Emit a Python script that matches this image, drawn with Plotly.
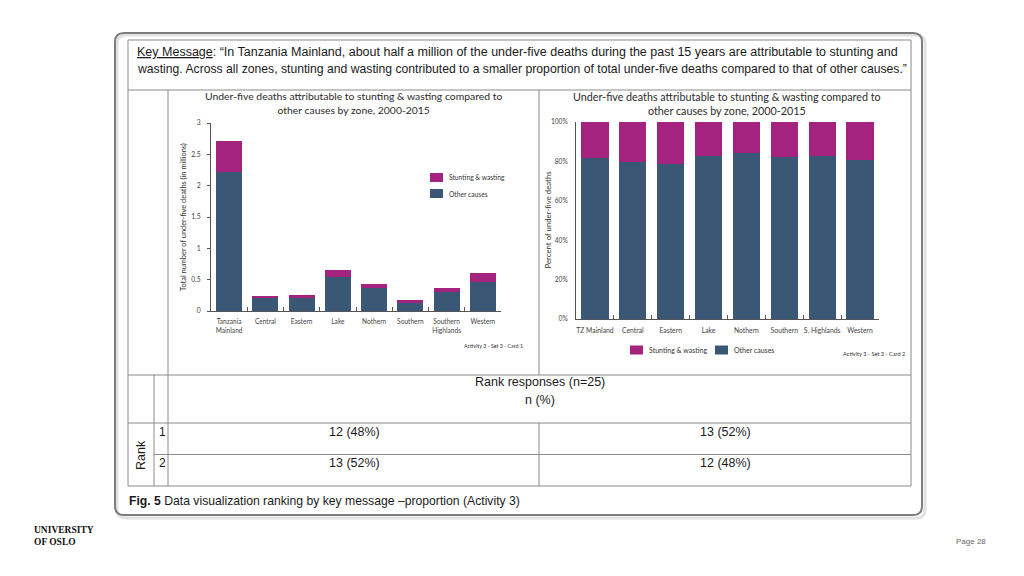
import plotly.graph_objects as go

# ---------------- data ----------------
zones_left = ["Tanzania<br>Mainland", "Central", "Eastern", "Lake", "Nothern", "Southern",
              "Southern<br>Highlands", "Western"]
left_other = [2.22, 0.20, 0.21, 0.54, 0.36, 0.14, 0.30, 0.47]      # millions
left_stunting = [0.50, 0.04, 0.04, 0.12, 0.07, 0.03, 0.07, 0.13]   # millions

zones_right = ["TZ Mainland", "Central", "Eastern", "Lake", "Nothern", "Southern",
               "S. Highlands", "Western"]
right_other = [81.7, 79.5, 78.8, 82.6, 84.1, 82.1, 82.9, 80.9]      # percent
right_stunting = [18.3, 20.5, 21.2, 17.4, 15.9, 17.9, 17.1, 19.1]   # percent

left_yticks = [0, 0.5, 1, 1.5, 2, 2.5, 3]
left_yticktext = ["0", "0.5", "1", "1.5", "2", "2.5", "3"]
right_yticks = [0, 20, 40, 60, 80, 100]
right_yticktext = ["0%", "20%", "40%", "60%", "80%", "100%"]

rank_rows = ["1", "2"]
rank_left = ["12 (48%)", "13 (52%)"]
rank_right = ["13 (52%)", "12 (48%)"]

# ---------------- style ----------------
W, H = 1024, 576
OFF = 8  # the page body adds an 8px margin around the figure
MAGENTA = "#A3237F"
BLUE = "#3A5875"
CHART_FONT = "Lato, 'Open Sans', sans-serif"
SANS = "'Liberation Sans', Arial, sans-serif"
GRID = "#8a8a8a"


def px(x):
    return (x - OFF) / W


def py(y):
    return 1 - (y - OFF) / H


fig = go.Figure()

fig.add_trace(go.Bar(x=zones_left, y=left_other, marker=dict(color=BLUE, line=dict(width=0)),
                     name="Other causes", xaxis="x", yaxis="y", showlegend=False))
fig.add_trace(go.Bar(x=zones_left, y=left_stunting, marker=dict(color=MAGENTA, line=dict(width=0)),
                     name="Stunting & wasting", xaxis="x", yaxis="y", showlegend=False))
fig.add_trace(go.Bar(x=zones_right, y=right_other, marker=dict(color=BLUE, line=dict(width=0)),
                     name="Other causes", xaxis="x2", yaxis="y2", showlegend=False))
fig.add_trace(go.Bar(x=zones_right, y=right_stunting, marker=dict(color=MAGENTA, line=dict(width=0)),
                     name="Stunting & wasting", xaxis="x2", yaxis="y2", showlegend=False))

axis_common = dict(showgrid=False, zeroline=False, showline=True, linecolor="#555", linewidth=1,
                   automargin=False)

shapes = []
annotations = []


def ann(text, x, y, size, family=SANS, color="#1a1a1a", xanchor="center", yanchor="middle",
        angle=0, align="center"):
    annotations.append(dict(text=text, x=px(x), y=py(y), xref="paper", yref="paper",
                            showarrow=False, xanchor=xanchor, yanchor=yanchor, textangle=angle,
                            align=align, font=dict(family=family, size=size, color=color)))


def line(x0, y0, x1, y1, color=GRID, width=1):
    shapes.append(dict(type="line", xref="paper", yref="paper", x0=px(x0), y0=py(y0),
                       x1=px(x1), y1=py(y1), line=dict(color=color, width=width)))


def rrect(x0, y0, x1, y1, r, color, width):
    rx, ry = r / W, r / H
    X0, X1, Y0, Y1 = px(x0), px(x1), py(y1), py(y0)
    path = (f"M{X0+rx},{Y1} L{X1-rx},{Y1} Q{X1},{Y1} {X1},{Y1-ry} "
            f"L{X1},{Y0+ry} Q{X1},{Y0} {X1-rx},{Y0} L{X0+rx},{Y0} Q{X0},{Y0} {X0},{Y0+ry} "
            f"L{X0},{Y1-ry} Q{X0},{Y1} {X0+rx},{Y1} Z")
    shapes.append(dict(type="path", xref="paper", yref="paper", path=path,
                       line=dict(color=color, width=width)))


def swatch(x0, y0, x1, y1, color):
    shapes.append(dict(type="rect", xref="paper", yref="paper", x0=px(x0), y0=py(y1),
                       x1=px(x1), y1=py(y0), fillcolor=color, line=dict(width=0)))


# outer box with soft shadow
rrect(117, 35, 925, 518, 9, "#e2e2e2", 3)
rrect(115, 33, 922, 515, 9, "#7d7d7d", 2)

# table frame
T_L, T_R, T_T, T_B = 128, 911, 40, 486
line(T_L, T_T, T_R, T_T)
line(T_L, T_B, T_R, T_B)
line(T_L, T_T, T_L, T_B)
line(T_R, T_T, T_R, T_B)
line(T_L, 90, T_R, 90)
line(T_L, 375, T_R, 375)
line(T_L, 423, T_R, 423)
line(154, 454.5, T_R, 454.5)
line(168, 90, 168, T_B)
line(154, 375, 154, T_B)
line(539, 90, 539, 375)
line(539, 423, 539, T_B)

# key message
ann("<u>Key Message</u>: “In Tanzania Mainland, about half a million of the under-five deaths during the past 15 years are attributable to stunting and",
    135, 52, 12.5, xanchor="left")
ann("wasting. Across all zones, stunting and wasting contributed to a smaller proportion of total under-five deaths compared to that of other causes.”",
    135, 69, 12.2, xanchor="left")

# chart titles
title = "Under-five deaths attributable to stunting &amp; wasting compared to<br>other causes by zone, 2000-2015"
ann(title, 353, 103, 10.4, family=CHART_FONT, color="#2b2b2b")
ann(title, 727, 103, 10.75, family=CHART_FONT, color="#2b2b2b")

# axis titles
ann("Total number of under-five deaths (in millions)", 183, 217, 7.4, family=CHART_FONT,
    color="#333", angle=-90)
ann("Percent of under-five deaths", 547.5, 220, 7.8, family=CHART_FONT, color="#333", angle=-90)

# legends
swatch(430, 173, 443, 182, MAGENTA)
ann("Stunting &amp; wasting", 447, 177.5, 6.7, family=CHART_FONT, color="#333", xanchor="left")
swatch(430, 189, 443, 198, BLUE)
ann("Other causes", 447, 193.5, 6.7, family=CHART_FONT, color="#333", xanchor="left")

swatch(630, 345.5, 643, 354.5, MAGENTA)
ann("Stunting &amp; wasting", 647, 350, 7, family=CHART_FONT, color="#333", xanchor="left")
swatch(715, 345.5, 728, 354.5, BLUE)
ann("Other causes", 732, 350, 7, family=CHART_FONT, color="#333", xanchor="left")

ann("Activity 3 - Set 3 - Card 1", 525, 346, 5.3, family=CHART_FONT, color="#333", xanchor="right")
ann("Activity 3 - Set 3 - Card 2", 907, 353, 5.6, family=CHART_FONT, color="#333", xanchor="right")

# table texts
ann("Rank responses (n=25)", 540, 382, 12.5)
ann("n (%)", 540, 400, 12.5)
for i, (r, a, b) in enumerate(zip(rank_rows, rank_left, rank_right)):
    yy = 432 + i * 31
    ann(r, 162, yy, 12)
    ann(a, 354, yy, 12.5)
    ann(b, 725, yy, 12.5)
ann("Rank", 141, 455, 12.5, angle=-90)

ann("<b>Fig. 5</b> Data visualization ranking by key message –proportion (Activity 3)", 127, 501, 12.2,
    xanchor="left")

# footer
ann("<b>UNIVERSITY<br>OF OSLO</b>", 32, 536, 9.5, family="'Liberation Serif', 'DejaVu Serif', serif",
    color="#111", xanchor="left", align="left")
ann("Page 28", 988, 541, 8, color="#666", xanchor="right")

fig.update_layout(
    width=W, height=H, margin=dict(l=0, r=0, t=0, b=0, pad=0, autoexpand=False),
    paper_bgcolor="white", plot_bgcolor="white",
    barmode="stack", bargap=0.28,
    showlegend=False,
    xaxis=dict(domain=[px(211), px(501)], anchor="y", range=[-0.5, 7.5], tickson="boundaries",
               ticks="inside", ticklen=4, tickcolor="#555", ticklabelstandoff=4, tickangle=0,
               tickfont=dict(family=CHART_FONT, size=6.6, color="#444"), **axis_common),
    yaxis=dict(domain=[py(311), py(123)], anchor="x", range=[0, 3], tickvals=left_yticks,
               ticktext=left_yticktext, ticks="outside", ticklen=3, tickcolor="#555",
               ticklabelstandoff=5, tickfont=dict(family=CHART_FONT, size=6.8, color="#444"),
               **axis_common),
    xaxis2=dict(domain=[px(576), px(879)], anchor="y2", range=[-0.5, 7.5], tickson="boundaries",
                ticks="inside", ticklen=4, tickcolor="#555", ticklabelstandoff=5, tickangle=0,
                tickfont=dict(family=CHART_FONT, size=6.8, color="#444"), **axis_common),
    yaxis2=dict(domain=[py(319), py(122)], anchor="x2", range=[0, 100], tickvals=right_yticks,
                ticktext=right_yticktext, ticks="", ticklabelstandoff=6,
                tickfont=dict(family=CHART_FONT, size=6.6, color="#444"), **axis_common),
    shapes=shapes, annotations=annotations,
)

fig.write_html("out.html")
